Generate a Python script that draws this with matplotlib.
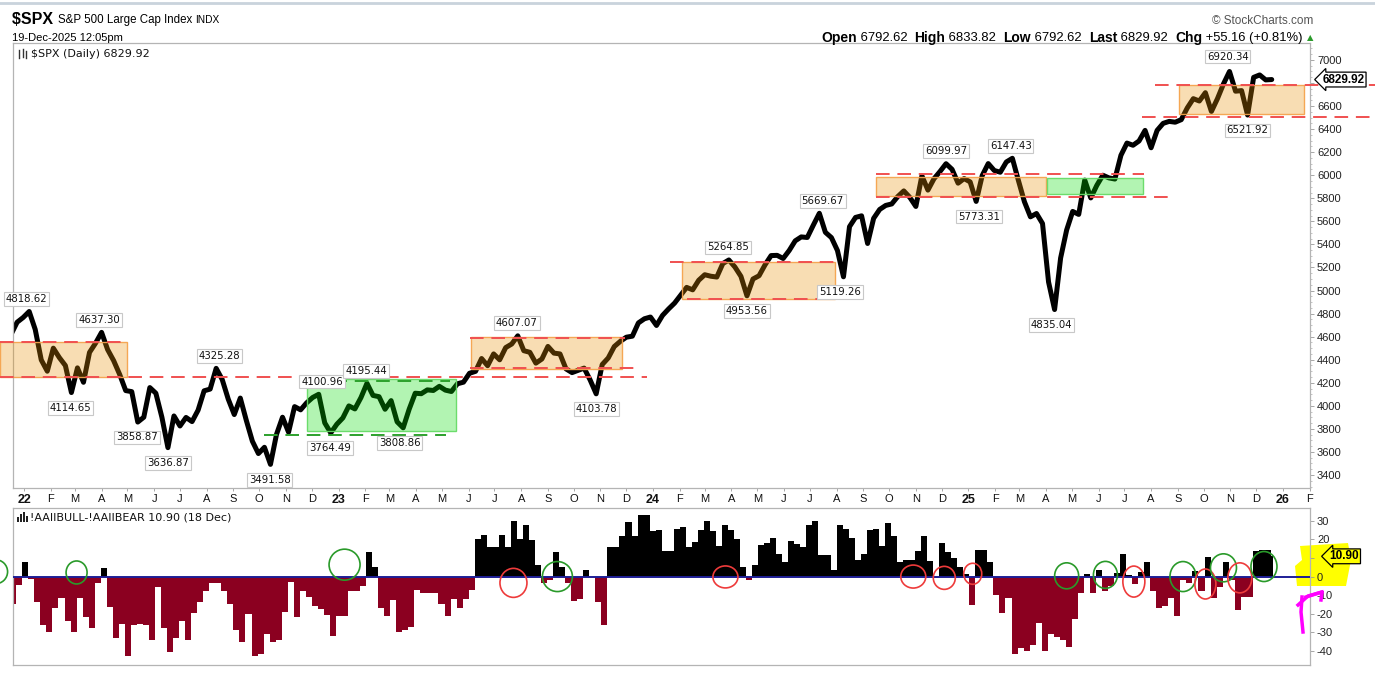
import numpy as np
import pandas as pd
import matplotlib
matplotlib.use("Agg")
import matplotlib.pyplot as plt
import matplotlib.dates as mdates
from matplotlib.patches import Rectangle, Ellipse, Polygon
from matplotlib.lines import Line2D
from matplotlib import font_manager as fm

# ---------------- data ----------------
# S&P 500 weekly (Friday) values, Dec 17 2021 .. Dec 19 2025
spx_close = [
    4620, 4725, 4766,
    # 2022
    4818, 4662, 4398, 4300, 4500, 4418, 4349, 4115, 4329, 4204, 4463, 4543, 4637,
    4488, 4392, 4272, 4132, 4123, 3859, 3901, 4158, 4109, 3901, 3637, 3912, 3825,
    3899, 3863, 3962, 4130, 4145, 4325, 4228, 4058, 3924, 4067, 3873, 3693, 3586,
    3640, 3492, 3752, 3901, 3771, 3993, 3965, 4026, 4072, 4100, 3852, 3765, 3840,
    # 2023
    3895, 3999, 3973, 4071, 4195, 4090, 4079, 3970, 4045, 3861, 3809, 3971, 4109,
    4105, 4138, 4133, 4169, 4136, 4124, 4191, 4205, 4282, 4299, 4410, 4348, 4450,
    4399, 4505, 4536, 4607, 4478, 4464, 4370, 4406, 4515, 4457, 4450, 4320, 4288,
    4308, 4327, 4224, 4104, 4358, 4415, 4514, 4559, 4595, 4604, 4719, 4755, 4770,
    # 2024
    4697, 4784, 4840, 4891, 4959, 5027, 5006, 5089, 5137, 5124, 5117, 5234, 5265,
    5204, 5123, 4954, 5100, 5128, 5223, 5303, 5305, 5278, 5347, 5431, 5465, 5460,
    5567, 5670, 5505, 5459, 5347, 5119, 5554, 5634, 5648, 5408, 5626, 5703, 5738,
    5751, 5815, 5864, 5808, 5729, 5995, 5871, 5969, 6032, 6100, 6051, 5931, 5971,
    # 2025
    5942, 5773, 5997, 6101, 6041, 6026, 6115, 6147, 5955, 5770, 5639, 5668, 5581,
    5074, 4835, 5282, 5525, 5686, 5660, 5958, 5803, 5912, 6000, 5977, 5967, 6173,
    6279, 6260, 6297, 6389, 6238, 6389, 6450, 6467, 6460, 6482, 6584, 6664, 6644,
    6716, 6553, 6664, 6792, 6900, 6729, 6734, 6522, 6849, 6870, 6827, 6830,
]

# AAII bull-bear spread, weekly (Thursday) values, Dec 16 2021 .. Dec 18 2025
aaii_spread = [
    -14.5, -4.5, 7.6,
    # 2022
    -1.5, -13.6, -26.3, -30, -17, -11.4, -24, -30, -11.4, -22, -27.5, -3.3, 4.5,
    -16.3, -33, -25.4, -43, -26.3, -25.7, -26, -34, -5.4, -27.7, -40.4, -33, -24,
    -34, -19.6, -13.6, -8, -3.6, -3.6, -8, -15, -29, -35, -20, -43, -41.7,
    -31, -35, -34, -19, -2.7, -22, -7.6, -11, -16, -17.6, -20.8, -32, -21,
    # 2023
    -21, -8, -8, -5, 13, 5.4, -17, -21.4, -12.7, -30, -29, -27, -7,
    -8.7, -8.7, -8.7, -15, -21, -12.3, -17, -12.3, -7, 20, 22.6, 15.8, 15.8,
    22.6, 15.8, 30, 20, 28, 19.6, 6.3, -3.3, -2, 13, 5.4, -3.6, -13,
    -12.3, 3.6, -0.5, -13.6, -26, 15.8, 15.8, 21.7, 29.3, 21.7, 33, 33, 24.5,
    # 2024
    25, 13.6, 13.6, 25.7, 26.8, 16, 18.5, 25, 30, 24.5, 16.3, 28, 25,
    20, 5.4, -1.8, 6.3, 17.2, 18, 21, 12.3, 8, 19, 17.6, 15.8, 28,
    30, 11.8, 11.8, 3.6, 28, 25.7, 20.8, 9, 12.3, 25, 25.7, 16.3, 28.6,
    22, 8, 8.7, 9, 14, 22, 8.5, -1, 18, 13, 10, 5.4, 1.5,
    # 2025
    -15.4, 14.5, 14.5, 7.6, -10, -19.6, -11.8, -41.7, -38.6, -40, -37, -25, -40,
    -31, -32.6, -34, -38, -22.6, -8.7, 1.5, -9, 3.3, -8, -5, 2, 12.3,
    1, -4, 2.7, 7.8, -8, -16.7, -16, -11.8, -21.4, -2, -3.6, 3, -8,
    10.3, -11.8, -5.8, 7.8, -2, -17.8, -11.2, -11.2, 13.6, 14.5, 14.5, 10.9,
]

price_ticks = list(range(3400, 7001, 200))
aaii_ticks = [30, 20, 10, 0, -10, -20, -30, -40]
month_letters = ['J', 'F', 'M', 'A', 'M', 'J', 'J', 'A', 'S', 'O', 'N', 'D']
last_price = 6829.92
last_spread = 10.90

# annotated extremes (date, value, side)
extremes = [
    ('2022-01-04', 4818.62, 'up'), ('2022-03-29', 4637.30, 'up'),
    ('2022-02-24', 4114.65, 'dn'), ('2022-05-12', 3858.87, 'dn'),
    ('2022-06-17', 3636.87, 'dn'), ('2022-08-16', 4325.28, 'up'),
    ('2022-10-13', 3491.58, 'dn'), ('2022-12-13', 4100.96, 'up'),
    ('2022-12-22', 3764.49, 'dn'), ('2023-02-02', 4195.44, 'up'),
    ('2023-03-13', 3808.86, 'dn'), ('2023-07-27', 4607.07, 'up'),
    ('2023-10-27', 4103.78, 'dn'), ('2024-03-28', 5264.85, 'up'),
    ('2024-04-19', 4953.56, 'dn'), ('2024-07-16', 5669.67, 'up'),
    ('2024-08-05', 5119.26, 'dn'), ('2024-12-06', 6099.97, 'up'),
    ('2025-01-13', 5773.31, 'dn'), ('2025-02-19', 6147.43, 'up'),
    ('2025-04-07', 4835.04, 'dn'), ('2025-10-29', 6920.34, 'up'),
    ('2025-11-21', 6521.92, 'dn'),
]

# shaded zones (start, end, low, high, kind)
zones = [
    ('2021-12-04', '2022-05-01', 4248, 4552, 'o'),
    ('2022-11-25', '2023-05-17', 3785, 4231, 'g'),
    ('2023-06-04', '2023-11-26', 4317, 4595, 'o'),
    ('2024-02-04', '2024-07-30', 4925, 5245, 'o'),
    ('2024-09-16', '2025-04-01', 5823, 5988, 'o'),
    ('2025-04-02', '2025-07-23', 5835, 5979, 'g'),
    ('2025-09-02', '2026-01-26', 6532, 6783, 'o'),
]
# dashed levels (start, end, level, kind)
levels = [
    ('2021-12-04', '2023-12-25', 4250, 'r'),
    ('2021-12-04', '2022-05-01', 4552, 'r'),
    ('2023-06-02', '2023-11-29', 4590, 'r'),
    ('2023-06-02', '2023-12-16', 4331, 'r'),
    ('2024-01-21', '2024-07-30', 5251, 'r'),
    ('2024-02-09', '2024-08-16', 4925, 'r'),
    ('2024-09-16', '2025-07-24', 6011, 'r'),
    ('2024-09-16', '2025-08-22', 5814, 'r'),
    ('2025-08-05', '2026-05-12', 6783, 'r'),
    ('2025-07-22', '2026-05-12', 6508, 'r'),
    ('2022-10-07', '2023-05-06', 3745, 'g'),
    ('2022-12-01', '2023-05-10', 4219, 'g'),
]
# circles on the sentiment panel (date, value, width px, height px, kind)
circles = [
    ('2021-11-29', 2.6, 24, 24, 'g'), ('2022-03-03', 2.2, 21, 23, 'g'),
    ('2023-01-08', 6.4, 31, 31, 'g'), ('2023-09-12', 0.0, 30, 30, 'g'),
    ('2023-07-23', -3.4, 27, 29, 'r'), ('2024-03-25', -0.2, 25, 22, 'r'),
    ('2024-10-29', 0.0, 25, 23, 'r'), ('2024-12-04', -0.7, 22, 23, 'r'),
    ('2025-01-06', 1.5, 18, 21, 'r'), ('2025-04-25', 0.4, 24, 26, 'g'),
    ('2025-06-09', 0.9, 24, 27, 'g'), ('2025-07-12', -2.7, 22, 31, 'r'),
    ('2025-09-07', 0.0, 26, 30, 'g'), ('2025-10-03', -4.0, 21, 30, 'r'),
    ('2025-10-24', 4.7, 26, 28, 'g'), ('2025-11-12', -0.7, 24, 30, 'r'),
    ('2025-12-10', 5.4, 26, 30, 'g'),
]

# ---------------- setup ----------------
_names = {f.name for f in fm.fontManager.ttflist}
NARROW = 'Liberation Sans Narrow' if 'Liberation Sans Narrow' in _names else 'Liberation Sans'
plt.rcParams['font.family'] = ['DejaVu Sans']

W, H = 1375, 673
fig = plt.figure(figsize=(W / 100, H / 100), dpi=100)
fig.patch.set_facecolor('white')


def fx(p):
    return p / W


def fy(p):
    return 1 - p / H


L, R = 13, 1310
ax = fig.add_axes([fx(L), fy(488), (R - L) / W, (488 - 43) / H])
ax2 = fig.add_axes([fx(L), fy(665), (R - L) / W, (665 - 508) / H])

xmin = mdates.date2num(pd.Timestamp('2021-12-19 05:00'))
xmax = mdates.date2num(pd.Timestamp('2026-02-01 10:00'))
d2n = lambda s: mdates.date2num(pd.Timestamp(s))

FRAME = '#b4b4b4'
for a in (ax, ax2):
    a.set_xlim(xmin, xmax)
    for s in a.spines.values():
        s.set_color(FRAME)
        s.set_linewidth(0.9)
ax.set_facecolor('white')
ax2.set_facecolor('none')

# ---------------- price panel ----------------
spx_dates = pd.date_range(end='2025-12-19', periods=len(spx_close), freq='W-FRI')
ax.plot(mdates.date2num(spx_dates), spx_close, color='black', lw=3.6,
        solid_joinstyle='round', solid_capstyle='round', zorder=2)
ax.set_ylim(3287, 7147)

OR_FACE = (0.91, 0.57, 0.02, 0.30)
OR_EDGE = (0.96, 0.64, 0.30, 0.95)
GR_FACE = (0.0, 0.86, 0.0, 0.30)
GR_EDGE = (0.40, 0.86, 0.40, 0.95)
for s, e, lo, hi, k in zones:
    fc, ec = (OR_FACE, OR_EDGE) if k == 'o' else (GR_FACE, GR_EDGE)
    ax.add_patch(Rectangle((d2n(s), lo), d2n(e) - d2n(s), hi - lo, facecolor=fc,
                           edgecolor=ec, lw=1.0, zorder=3, clip_on=False))
for s, e, lv, k in levels:
    col = '#f05050' if k == 'r' else '#2ca02c'
    ax.add_line(Line2D([d2n(s), d2n(e)], [lv, lv], color=col, lw=1.4,
                       dashes=(7, 4), zorder=4, clip_on=False))

for d, v, side in extremes:
    off = 9 if side == 'up' else -11
    ax.annotate(f'{v:.2f}', xy=(d2n(d), v), xytext=(0, off), textcoords='offset points',
                ha='center', va='center', fontsize=7.3, color='#111111', zorder=7,
                bbox=dict(boxstyle='square,pad=0.18', fc='white', ec='#c8c8c8', lw=0.8),
                annotation_clip=False)

ax.yaxis.tick_right()
ax.set_yticks(price_ticks)
# the 6800 label is covered by the last-price marker, as in the original
ax.set_yticklabels(['' if t == 6800 else str(t) for t in price_ticks], fontsize=8,
                   color='#222222', family=NARROW)
ax.set_yticks(np.arange(3300, 7101, 50), minor=True)
ax.tick_params(axis='y', which='major', length=3, width=0.6, color='#999999', pad=2)
ax.tick_params(axis='y', which='minor', length=1.5, width=0.5, color='#aaaaaa')

# month ticks
month_starts = pd.date_range('2022-01-01', '2026-02-01', freq='MS')
mlabels = [f'{d.year % 100:02d}' if d.month == 1 else month_letters[d.month - 1] for d in month_starts]
ax.set_xticks(mdates.date2num(month_starts))
ax.set_xticklabels(mlabels, fontsize=8, family=NARROW, color='#111111')
for t in ax.get_xticklabels():
    if t.get_text().isdigit():
        t.set_fontweight('bold')
        t.set_fontsize(9)
ax.tick_params(axis='x', length=2.5, width=0.6, color='#999999', pad=1.5)

# last price marker on right axis
ax.annotate(f'{last_price:.2f}', xy=(1.0, last_price), xycoords=('axes fraction', 'data'),
            xytext=(9, 0), textcoords='offset points', ha='left', va='center',
            fontsize=8.5, fontweight='bold', family=NARROW, zorder=8,
            bbox=dict(boxstyle='larrow,pad=0.12', fc='white', ec='black', lw=0.9),
            annotation_clip=False)

# ---------------- sentiment panel ----------------
aaii_dates = pd.date_range(end='2025-12-18', periods=len(aaii_spread), freq='W-THU')
an = mdates.date2num(aaii_dates)
end_n = d2n('2025-12-20')
widths = np.append(np.diff(an), end_n - an[-1])
cols = ['black' if v >= 0 else '#8b0020' for v in aaii_spread]
ax2.bar(an, aaii_spread, width=widths, align='edge', color=cols, linewidth=0, zorder=2)
ax2.axhline(0, color='#1e1e96', lw=1.4, zorder=3)
ax2.set_ylim(-47.6, 36.9)
ax2.yaxis.tick_right()
ax2.set_yticks(aaii_ticks)
ax2.set_yticklabels(['' if t == 10 else str(t) for t in aaii_ticks], fontsize=8,
                    color='#222222', family=NARROW)
ax2.tick_params(axis='y', length=3, width=0.6, color='#999999', pad=2)
ax2.set_xticks([])

dpp = (xmax - xmin) / (R - L)
upp = (36.9 + 47.6) / (665 - 508)
for d, v, w, h, k in circles:
    col = '#2a9a2a' if k == 'g' else '#ee3b3b'
    ax2.add_patch(Ellipse((d2n(d), v), w * dpp, h * upp, fill=False, edgecolor=col,
                          lw=1.2, zorder=5, clip_on=False))

# ---------------- header / decorations ----------------
renderer = fig.canvas.get_renderer()


def seq_text(x_px, y_px, pieces, align='left'):
    objs = []
    for txt, kw in pieces:
        objs.append(fig.text(0, fy(y_px), txt, va='center', ha='left', **kw))
    wpx = [o.get_window_extent(renderer=renderer).width for o in objs]
    xcur = x_px if align == 'left' else x_px - sum(wpx)
    for o, w_ in zip(objs, wpx):
        o.set_x(fx(xcur))
        xcur += w_


fig.add_artist(Line2D([0, 1], [fy(2.5), fy(2.5)], transform=fig.transFigure,
                      color='#c9d3dc', lw=2))
seq_text(12, 20, [('$SPX ', dict(fontsize=11.5, fontweight='bold', family=NARROW)),
                  ('S&P 500 Large Cap Index ', dict(fontsize=8.3, family=NARROW)),
                  ('INDX', dict(fontsize=7.3, family=NARROW))])
fig.text(fx(12), fy(38), '19-Dec-2025 12:05pm', fontsize=8, family=NARROW, va='center')
fig.text(fx(1313), fy(21), '\u00a9 StockCharts.com', fontsize=8.5, family=NARROW,
         color='#555555', va='center', ha='right')

B = dict(fontsize=10, fontweight='bold', family=NARROW)
N = dict(fontsize=9.4, family=NARROW)
seq_text(1313, 38, [('Open', B), (' 6792.62  ', N), ('High', B), (' 6833.82  ', N),
                    ('Low', B), (' 6792.62  ', N), ('Last', B), (' 6829.92  ', N),
                    ('Chg', B), (' +55.16 (+0.81%) ', N),
                    ('\u25b2', dict(fontsize=6, color='#2a9a2a'))], align='right')

# panel legends
fig.text(fx(31), fy(54), '$SPX (Daily) 6829.92', fontsize=8, va='center', color='#111111')
fig.add_artist(Line2D([fx(19), fx(19)], [fy(50), fy(58)], transform=fig.transFigure, color='#333333', lw=1))
fig.add_artist(Line2D([fx(23), fx(23)], [fy(49), fy(57)], transform=fig.transFigure, color='#333333', lw=1))
fig.add_artist(Line2D([fx(26), fx(26)], [fy(51), fy(58)], transform=fig.transFigure, color='#333333', lw=1))

fig.text(fx(30), fy(517), '!AAIIBULL-!AAIIBEAR 10.90 (18 Dec)', fontsize=8, va='center', color='#111111')
for xx, hh in [(17, 5), (20, 8), (23, 10), (26, 6)]:
    fig.add_artist(Rectangle((fx(xx), fy(522)), 2.2 / W, hh / H, transform=fig.transFigure,
                             facecolor='#222222', edgecolor='none'))

# yellow highlight (behind the axis labels) and pink hand-drawn arrow
fig.add_artist(Polygon([(fx(1300), fy(546)), (fx(1348), fy(543)), (fx(1351), fy(560)),
                        (fx(1346), fy(586)), (fx(1297), fy(586)), (fx(1295), fy(566)),
                        (fx(1302), fy(560))], closed=True, transform=fig.transFigure,
                       facecolor='#ffff00', edgecolor='none', zorder=-1))
ax2.annotate(f'{last_spread:.2f}', xy=(1.0, last_spread), xycoords=('axes fraction', 'data'),
             xytext=(14, 0), textcoords='offset points', ha='left', va='center',
             fontsize=8.5, fontweight='bold', family=NARROW, zorder=8,
             bbox=dict(boxstyle='larrow,pad=0.12', fc='#ffff00', ec='black', lw=0.9),
             annotation_clip=False)
fig.add_artist(Line2D([fx(1303), fx(1301), fx(1302)], [fy(632), fy(612), fy(597)],
                      transform=fig.transFigure, color='#ff00ff', lw=2.5))
fig.add_artist(Line2D([fx(1298), fx(1308), fx(1322)], [fy(605), fy(596), fy(592)],
                      transform=fig.transFigure, color='#ff00ff', lw=2.5))
fig.add_artist(Line2D([fx(1306), fx(1322), fx(1321)], [fy(597), fy(592), fy(600)],
                      transform=fig.transFigure, color='#ff00ff', lw=2.5))

fig.savefig('out.png', dpi=100, facecolor='white')
